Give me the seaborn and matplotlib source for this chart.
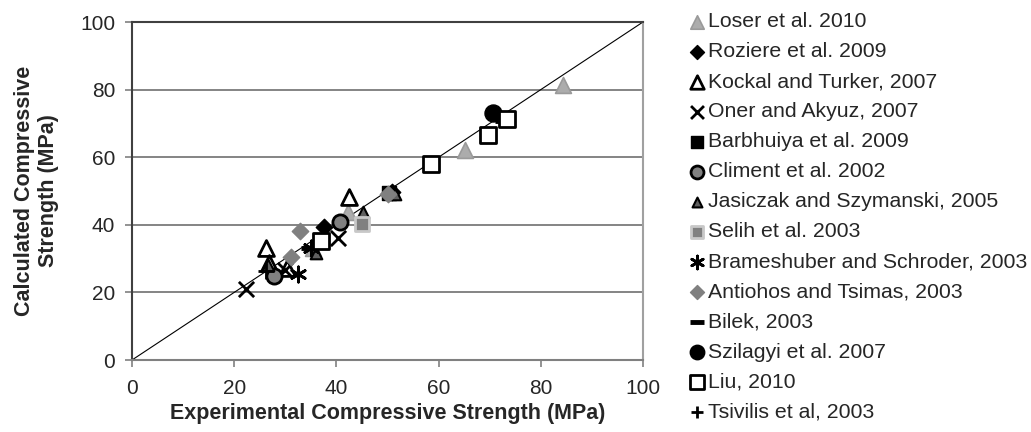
"""Calculated vs experimental compressive strength, saved to out.png"""

import matplotlib.pyplot as plt
import seaborn as sns
import pandas as pd

# study names (legend order)
studies = [
    "Loser et al. 2010",
    "Roziere et al. 2009",
    "Kockal and Turker, 2007",
    "Oner and Akyuz, 2007",
    "Barbhuiya et al. 2009",
    "Climent et al. 2002",
    "Jasiczak and Szymanski, 2005",
    "Selih et al. 2003",
    "Brameshuber and Schroder, 2003",
    "Antiohos and Tsimas, 2003",
    "Bilek, 2003",
    "Szilagyi et al. 2007",
    "Liu, 2010",
    "Tsivilis et al, 2003",
]

# experimental (x) and calculated (y) strengths, MPa
loser_x = [84.3, 65.1, 42.2, 35.5]
loser_y = [81.4, 62.0, 43.9, 33.0]
roziere_x = [37.6, 50.8]
roziere_y = [39.4, 49.8]
kockal_x = [42.5, 26.3, 26.9, 30.3]
kockal_y = [48.3, 33.0, 28.6, 27.3]
oner_x = [22.4, 40.4, 30.0]
oner_y = [20.9, 36.0, 26.5]
barbhuiya_x = [50.2]
barbhuiya_y = [49.3]
climent_x = [27.7, 40.7]
climent_y = [24.9, 40.9]
jasiczak_x = [36.0, 45.3, 26.7, 51.5]
jasiczak_y = [31.6, 43.9, 28.1, 49.0]
selih_x = [45.1]
selih_y = [40.2]
brameshuber_x = [32.5, 35.0]
brameshuber_y = [25.5, 33.0]
antiohos_x = [32.8, 31.2, 50.0]
antiohos_y = [38.2, 30.5, 49.0]
bilek_x = [72.7, 34.7]
bilek_y = [70.8, 33.0]
szilagyi_x = [70.6]
szilagyi_y = [73.2]
liu_x = [73.3, 69.7, 58.5, 37.0]
liu_y = [71.2, 66.6, 57.9, 35.3]
tsivilis_x = [26.2]
tsivilis_y = [26.4]

xs = [loser_x, roziere_x, kockal_x, oner_x, barbhuiya_x, climent_x, jasiczak_x,
      selih_x, brameshuber_x, antiohos_x, bilek_x, szilagyi_x, liu_x, tsivilis_x]
ys = [loser_y, roziere_y, kockal_y, oner_y, barbhuiya_y, climent_y, jasiczak_y,
      selih_y, brameshuber_y, antiohos_y, bilek_y, szilagyi_y, liu_y, tsivilis_y]

# marker, size, face, edge, edge width
styles = [
    ("^", 130, "#acacac", "#9a9a9a", 1.2),
    ("D", 70, "black", "black", 1.0),
    ("^", 130, "white", "black", 2.0),
    ("x", 120, "black", "black", 2.0),
    ("s", 110, "black", "black", 1.0),
    ("o", 120, "#808080", "black", 2.0),
    ("^", 70, "#606060", "black", 1.5),
    ("s", 110, "#808080", "#c8c8c8", 2.0),
    ((6, 2, 0), 120, "black", "black", 2.0),
    ("D", 70, "#808080", "#808080", 1.0),
    ("_", 130, "black", "black", 3.5),
    ("o", 150, "black", "black", 1.0),
    ("s", 130, "white", "black", 2.0),
    ("+", 120, "black", "black", 2.0),
]

sns.set_style("white")
plt.rcParams["font.family"] = ["Liberation Sans", "DejaVu Sans"]

fig = plt.figure(figsize=(10.31, 4.32), dpi=100)
ax = fig.add_axes([132 / 1031, 1 - 360 / 432, 511 / 1031, 338 / 432])

for label, x, y, (mk, s, fc, ec, lw) in zip(studies, xs, ys, styles):
    df = pd.DataFrame({"x": x, "y": y})
    sns.scatterplot(data=df, x="x", y="y", ax=ax, marker=mk, s=s, color=fc,
                    edgecolor=ec, linewidth=lw, label=label, zorder=3)

ax.plot([0, 100], [0, 100], color="black", lw=0.8, zorder=2)

ax.set_xlim(0, 100)
ax.set_ylim(0, 100)
ax.set_xticks(range(0, 101, 20))
ax.set_yticks(range(0, 101, 20))
for v in range(20, 100, 20):
    ax.axhline(v, color="#707070", lw=1.2, zorder=1)
ax.spines["top"].set_color("#404040")
ax.spines["left"].set_color("#404040")
ax.spines["bottom"].set_color("#808080")
ax.spines["right"].set_color("#a0a0a0")
for sp in ax.spines.values():
    sp.set_linewidth(1.5)
ax.tick_params(axis="both", length=5, width=1.2, color="#808080",
               labelsize=15, bottom=True, left=True)
ax.tick_params(axis="x", pad=9)
ax.tick_params(axis="y", pad=7)
ax.set_xlabel("Experimental Compressive Strength (MPa)", fontsize=15.5,
              fontweight="bold", labelpad=3)
ax.set_ylabel("Calculated Compressive\nStrength (MPa)", fontsize=15.5,
              fontweight="bold", labelpad=15)

ax.legend(loc="upper left", bbox_to_anchor=(0.670, 0.972),
          bbox_transform=fig.transFigure, frameon=False, fontsize=15.3,
          markerscale=0.85, handlelength=0.6, handletextpad=0.2,
          labelspacing=0.52, borderpad=0, borderaxespad=0)

fig.savefig("out.png", dpi=100)
plt.close(fig)
